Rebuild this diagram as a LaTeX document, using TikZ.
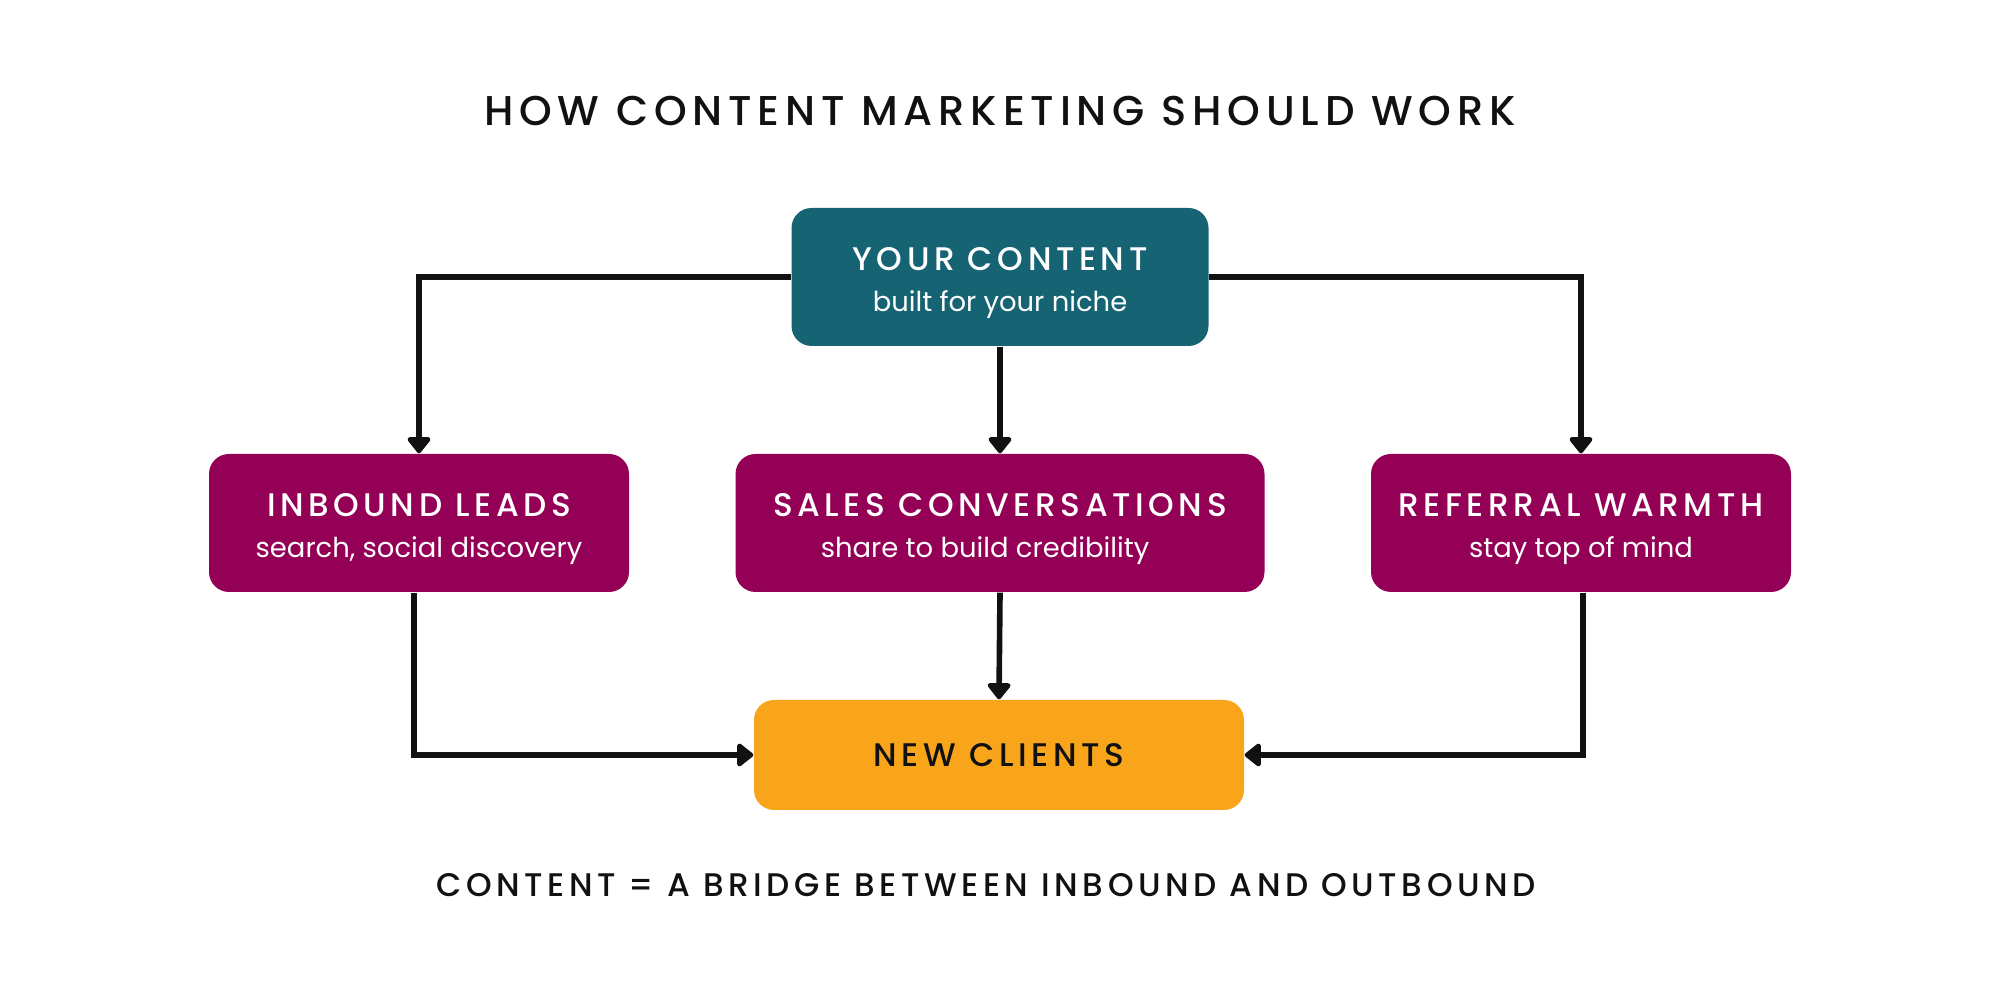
\documentclass[tikz,border=0pt]{standalone}
\usepackage{fontspec}
\setmainfont{Poppins}
\newfontfamily\capsfont[LetterSpace=14]{Poppins Medium}
\usetikzlibrary{arrows.meta, positioning}

\definecolor{tealbox}{HTML}{166373}
\definecolor{plumbox}{HTML}{940056}
\definecolor{amberbox}{HTML}{F9A51C}
\definecolor{inkblack}{HTML}{111111}

\newcommand{\boxhead}[1]{{\capsfont\fontsize{9.3}{11.5}\selectfont\rule{0pt}{10pt}#1}}
\newcommand{\boxsub}[1]{{\fontsize{7.8}{11.5}\selectfont #1}}

\begin{document}
\begin{tikzpicture}[
    every node/.style={font=\fontsize{9}{11.5}\selectfont},
    block/.style={rounded corners=0.2cm, minimum height=1.38cm, align=center, text=white, inner sep=0pt},
    arrow/.style={-{Triangle[length=5pt, width=7.5pt, round]}, line width=1.6pt, inkblack}
]
\useasboundingbox (0,0) rectangle (20,10);

\node[font=\capsfont\fontsize{11.85}{14}\selectfont, text=inkblack] (title) at (10.0,8.89) {HOW CONTENT MARKETING SHOULD WORK};

\node[block, fill=tealbox, minimum width=4.17cm] (content) at (10.0,7.23) {\boxhead{YOUR CONTENT}\\\boxsub{built for your niche}};

\node[block, fill=plumbox, minimum width=4.2cm]  (inbound)  at (4.19,4.77)  {\boxhead{INBOUND LEADS}\\\boxsub{search, social discovery}};
\node[block, fill=plumbox, minimum width=5.29cm] (sales)    at (10.0,4.77)  {\boxhead{SALES CONVERSATIONS}\\\boxsub{share to build credibility\hspace*{0.3cm}}};
\node[block, fill=plumbox, minimum width=4.2cm]  (referral) at (15.81,4.77) {\boxhead{REFERRAL WARMTH}\\\boxsub{stay top of mind}};

\node[block, fill=amberbox, minimum width=4.9cm, minimum height=1.1cm, text=inkblack] (clients) at (9.99,2.45) {{\capsfont\fontsize{9.3}{12}\selectfont NEW CLIENTS}};

\draw[arrow] (content.west) -| (inbound.north);
\draw[arrow] (content.south) -- (sales.north);
\draw[arrow] (content.east) -| (referral.north);

\draw[arrow] ([xshift=-0.05cm]inbound.south) |- (clients.west);
\draw[arrow] (sales.south) -- (clients.north);
\draw[arrow] ([xshift=0.02cm]referral.south) |- (clients.east);

% takeaway line
\node[font=\capsfont\fontsize{9.3}{12}\selectfont, text=inkblack] (bridge) at (9.86,1.15) {CONTENT = A BRIDGE BETWEEN INBOUND AND OUTBOUND};

\end{tikzpicture}
\end{document}
